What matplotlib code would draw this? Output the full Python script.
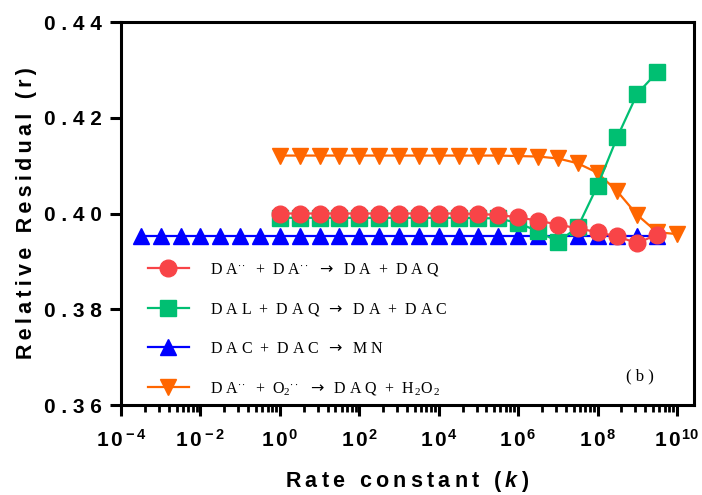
import numpy as np
import matplotlib
matplotlib.use('Agg')
import matplotlib.pyplot as plt
from matplotlib.ticker import FixedLocator, FuncFormatter, NullFormatter

plt.rcParams['mathtext.fontset'] = 'custom'
plt.rcParams['mathtext.rm'] = 'Liberation Serif'
plt.rcParams['mathtext.it'] = 'Liberation Serif:italic'
plt.rcParams['mathtext.sf'] = 'DejaVu Sans'
plt.rcParams['mathtext.bf'] = 'Liberation Sans:bold'
plt.rcParams['mathtext.bfit'] = 'Liberation Sans:italic:bold'

# exponents of the rate constant (k = 10**exp)
exp_blue = [-3.5, -3.0, -2.5, -2.0, -1.5, -1.0, -0.5, 0.0, 0.5, 1.0, 1.5, 2.0, 2.5, 3.0,
            3.5, 4.0, 4.5, 5.0, 5.5, 6.0, 6.5, 7.0, 7.5, 8.0, 8.5, 9.0, 9.5]
exp_red = [0.0, 0.5, 1.0, 1.5, 2.0, 2.5, 3.0, 3.5, 4.0, 4.5, 5.0, 5.5, 6.0, 6.5,
           7.0, 7.5, 8.0, 8.5, 9.0, 9.5]
exp_green = exp_red
exp_orange = [0.0, 0.5, 1.0, 1.5, 2.0, 2.5, 3.0, 3.5, 4.0, 4.5, 5.0, 5.5, 6.0, 6.5,
              7.0, 7.5, 8.0, 8.5, 9.0, 9.5, 10.0]

r_red = [0.4000, 0.4000, 0.4000, 0.4000, 0.4000, 0.4000, 0.4000, 0.4000, 0.4000, 0.4000,
         0.3999, 0.3997, 0.3992, 0.3985, 0.3977, 0.3969, 0.3961, 0.3952, 0.3938, 0.3956]
r_green = [0.3991, 0.3991, 0.3991, 0.3991, 0.3991, 0.3991, 0.3991, 0.3991, 0.3991, 0.3991,
           0.3990, 0.3990, 0.3980, 0.3963, 0.3941, 0.3971, 0.4058, 0.4160, 0.4250, 0.4295]
r_blue = [0.3953] * 27
r_orange = [0.4121, 0.4121, 0.4121, 0.4121, 0.4121, 0.4121, 0.4121, 0.4121, 0.4121, 0.4121,
            0.4121, 0.4121, 0.4120, 0.4119, 0.4115, 0.4105, 0.4085, 0.4046, 0.3997, 0.3961,
            0.3957]

ARROW = '$\\mathsf{\\rightarrow}$'
labels = [
    'D A$^{\\cdot\\cdot}$  +  D A$^{\\cdot\\cdot}$  ' + ARROW + '  D A  +  D A Q',
    'D A L  +  D A Q  ' + ARROW + '  D A  +  D A C',
    'D A C  +  D A C  ' + ARROW + '  M N',
    'D A$^{\\cdot\\cdot}$  +  O$_{2}$$^{\\cdot\\cdot}$  ' + ARROW
    + '  D A Q  +  H$_{\\,2}$O$_{\\,2}$',
]

major_exp = [-4, -2, 0, 2, 4, 6, 8, 10]


def spaced(s):
    return '\u2009'.join(s)


def main():
    fig = plt.figure(figsize=(7.02, 4.95), dpi=100)
    ax = fig.add_axes([121 / 702, 1 - 405 / 495, 573 / 702, 383 / 495])

    ax.plot(10.0 ** np.array(exp_red), r_red, '-o', color='#F84447', lw=1.6,
            ms=12, label=labels[0], zorder=4)
    ax.plot(10.0 ** np.array(exp_green), r_green, '-s', color='#00BF72', lw=1.6,
            ms=11, label=labels[1], zorder=3)
    ax.plot(10.0 ** np.array(exp_blue), r_blue, '-^', color='#0000FF', lw=1.6,
            ms=11.5, label=labels[2], zorder=2)
    ax.plot(10.0 ** np.array(exp_orange), r_orange, '-v', color='#FF6600', lw=1.6,
            ms=11.5, label=labels[3], zorder=2)

    ax.set_xscale('log')
    ax.set_xlim(1e-4, 10 ** 10.43)
    ax.set_ylim(0.36, 0.44)

    ax.xaxis.set_major_locator(FixedLocator([10.0 ** e for e in major_exp]))
    minors = []
    for e in major_exp[:-1]:
        for k in range(2, 10):
            minors.append(10.0 ** e * k * k)
    ax.xaxis.set_minor_locator(FixedLocator(minors))
    ax.xaxis.set_minor_formatter(NullFormatter())
    ax.xaxis.set_major_formatter(FuncFormatter(
        lambda v, p: r'$\mathbf{1\,0^{\,%d}}$' % round(np.log10(v))))
    ax.set_yticks([0.36, 0.38, 0.40, 0.42, 0.44])
    ax.yaxis.set_major_formatter(FuncFormatter(lambda v, p: ' '.join('%.2f' % v)))

    for sp in ax.spines.values():
        sp.set_linewidth(2.2)
    ax.tick_params(axis='both', which='major', direction='out', length=8, width=2.2)
    ax.tick_params(axis='x', which='minor', direction='out', length=5, width=2.0)
    ax.tick_params(axis='x', labelsize=15, pad=9)
    ax.tick_params(axis='y', labelsize=15, pad=6)
    for t in ax.get_yticklabels():
        t.set_fontfamily('Liberation Sans')
        t.set_fontweight('bold')

    ax.set_ylabel(spaced('Relative Residual (r)'), fontsize=15.5, fontweight='bold',
                  family=['Liberation Sans', 'DejaVu Sans'], labelpad=5)
    ax.set_xlabel(spaced('Rate constant (') + '\u2009$\\mathbfit{k}$\u2009)', fontsize=15.5,
                  fontweight='bold', family=['Liberation Sans', 'DejaVu Sans'], labelpad=13)

    ax.legend(loc='lower left', bbox_to_anchor=(0.024, -0.013), frameon=False,
              prop={'family': 'Liberation Serif', 'size': 11.5},
              handlelength=2.6, handletextpad=1.3, labelspacing=1.45, borderpad=0.3)

    ax.text(0.905, 0.075, '( b )', transform=ax.transAxes, fontsize=12,
            family='Liberation Serif', ha='center', va='center')

    fig.savefig('out.png', dpi=100)


if __name__ == "__main__":
    main()
